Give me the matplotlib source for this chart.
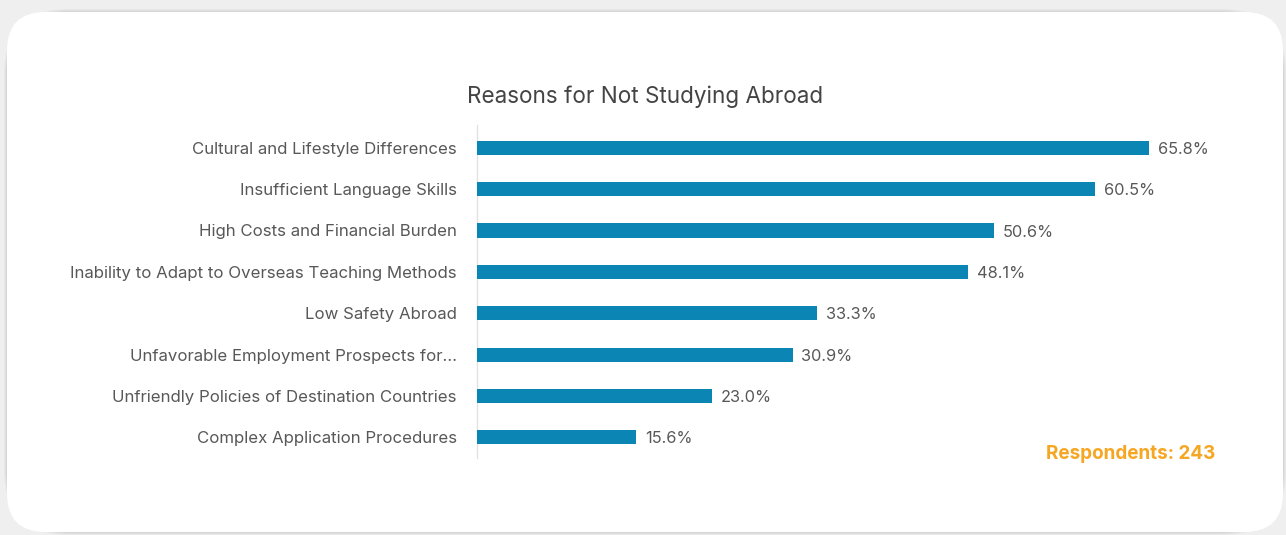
import matplotlib
matplotlib.use("Agg")
import matplotlib.pyplot as plt
from matplotlib.patches import FancyBboxPatch

categories = [
    "Cultural and Lifestyle Differences",
    "Insufficient Language Skills",
    "High Costs and Financial Burden",
    "Inability to Adapt to Overseas Teaching Methods",
    "Low Safety Abroad",
    "Unfavorable Employment Prospects for...",
    "Unfriendly Policies of Destination Countries",
    "Complex Application Procedures",
]
values = [65.8, 60.5, 50.6, 48.1, 33.3, 30.9, 23.0, 15.6]
title = "Reasons for Not Studying Abroad"
note = "Respondents: 243"

W, H = 1286, 535
fig = plt.figure(figsize=(W / 100, H / 100), dpi=100)
fig.patch.set_facecolor("#efefef")

# white card with rounded corners and a soft shadow
for i, a in enumerate([0.03, 0.03, 0.04]):
    d = 3 - i
    fig.patches.append(FancyBboxPatch(
        ((7 - d) / W, (535 - 532 - d) / H), (1276 + 2 * d) / W, (520 + 2 * d) / H,
        boxstyle="round,pad=0,rounding_size=0.05", transform=fig.transFigure,
        facecolor="black", alpha=a, edgecolor="none", mutation_aspect=W / H, zorder=0))
fig.patches.append(FancyBboxPatch(
    (7 / W, 3 / H), 1276 / W, 520 / H,
    boxstyle="round,pad=0,rounding_size=0.03", transform=fig.transFigure,
    facecolor="white", edgecolor="none", mutation_aspect=W / H, zorder=1))

left, right = 477, 1221
top, bottom = 125, 458
ax = fig.add_axes([left / W, 1 - bottom / H, (right - left) / W, (bottom - top) / H])
ax.set_facecolor("none")
ax.set_zorder(2)

y = list(range(len(categories)))
ax.barh(y, values, height=0.34, color="#0a85b4", zorder=3)
ax.set_ylim(len(categories) - 0.5, -0.55)
ax.set_xlim(0, (right - left) / 10.213)

font = "Inter"
for yi, v in zip(y, values):
    ax.text(v + 0.85, yi + 0.04, f"{v:.1f}%", va="center", ha="left",
            fontsize=11.8, color="#585858", family=font)

ax.set_yticks(y)
ax.set_yticklabels(categories, fontsize=12.1, color="#585858", family=font)
ax.tick_params(axis="y", length=0, pad=14.5)
ax.set_xticks([])
for s in ["top", "right", "bottom"]:
    ax.spines[s].set_visible(False)
ax.spines["left"].set_color("#e2e2e2")
ax.spines["left"].set_linewidth(1)

fig.text(645 / W, 1 - 97 / H, title, ha="center", va="center",
         fontsize=16.2, color="#444444", family=font, zorder=3)
fig.text(1215 / W, 1 - 454 / H, note, ha="right", va="center",
         fontsize=13.6, color="#f5a623", family=font, fontweight="bold", zorder=3)

fig.savefig("out.png", dpi=100, facecolor=fig.get_facecolor())
